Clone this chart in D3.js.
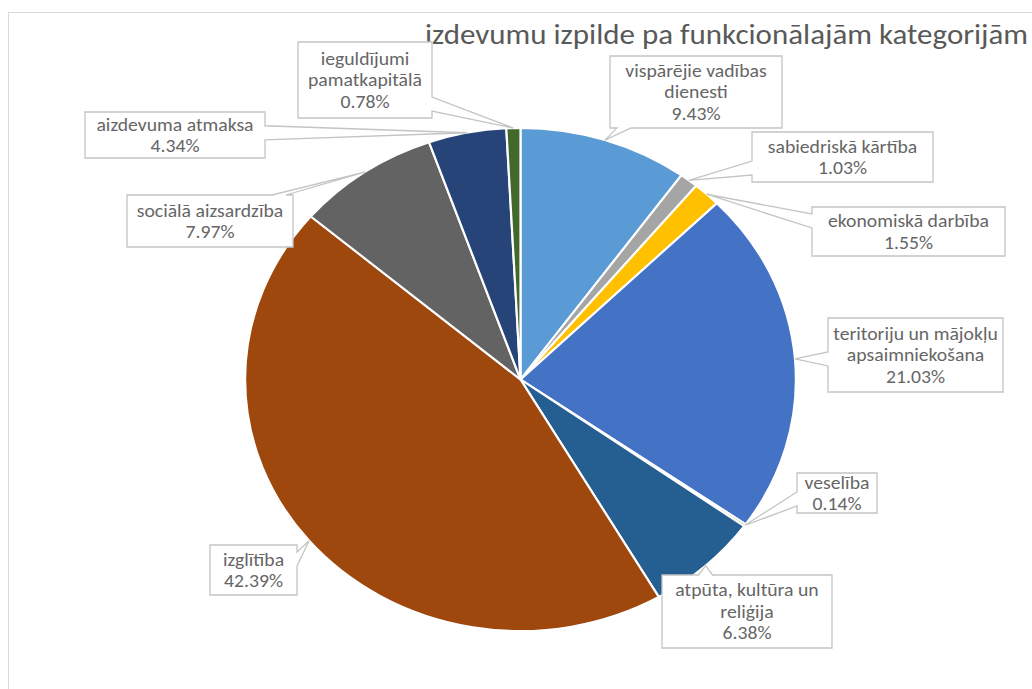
<!DOCTYPE html>
<html>
<head>
<meta charset="utf-8">
<script src="https://cdn.jsdelivr.net/npm/d3@7"></script>
<style>
  body { margin: 0; background: #fff; }
  svg { display: block; }
  text { font-family: Carlito, Calibri, "Liberation Sans", sans-serif; fill: #666; }
</style>
</head>
<body>
<svg width="1032" height="689"></svg>
<script>
// chart data
var categories = [
  'vispārējie vadības\ndienesti',
  'sabiedriskā kārtība',
  'ekonomiskā darbība',
  'teritoriju un mājokļu\napsaimniekošana',
  'veselība',
  'atpūta, kultūra un\nreliģija',
  'izglītība',
  'sociālā aizsardzība',
  'aizdevuma atmaksa',
  'ieguldījumi\npamatkapitālā'
];
var shares = [9.43, 1.03, 1.55, 21.03, 0.14, 6.38, 42.39, 7.97, 4.34, 0.78];
var shareLabels = ['9.43%', '1.03%', '1.55%', '21.03%', '0.14%', '6.38%', '42.39%', '7.97%', '4.34%', '0.78%'];
var colors = ['#5B9BD5', '#A5A5A5', '#FFC000', '#4472C4', '#70AD47', '#255E91', '#9E480E', '#636363', '#264478', '#43682B'];
var title = 'izdevumu izpilde pa funkcionālajām kategorijām';

// callout boxes (layout only)
var boxes = [
  {x: 610, y: 56, w: 172, h: 72},
  {x: 752, y: 132, w: 181, h: 50},
  {x: 812, y: 207, w: 193, h: 49},
  {x: 828, y: 318, w: 175, h: 74},
  {x: 797, y: 473, w: 80, h: 40},
  {x: 662, y: 575, w: 170, h: 73},
  {x: 210, y: 545, w: 87, h: 50},
  {x: 127, y: 195, w: 166, h: 52},
  {x: 85, y: 112, w: 180, h: 46},
  {x: 298, y: 42, w: 134, h: 76}
];

var cx = 520.5, cy = 379.5, r = 251.5, sx = 1.095;
var svg = d3.select('svg');

// chart area border
svg.append('rect')
  .attr('x', 8.5).attr('y', 12.5)
  .attr('width', 1040).attr('height', 700)
  .attr('fill', 'none')
  .attr('stroke', '#d9d9d9');

svg.append('g')
  .attr('transform', 'translate(425,44) scale(' + sx + ',1)')
  .append('text')
  .style('font-size', '28.3px')
  .style('fill', '#595959')
  .text(title);

var pie = d3.pie().sort(null).value(function(d) { return d; });
var arcs = pie(shares);
var arc = d3.arc().innerRadius(0).outerRadius(r);
var edge = d3.arc().innerRadius(r).outerRadius(r);

var pieG = svg.append('g')
  .attr('transform', 'translate(' + cx + ',' + cy + ') scale(' + sx + ',1)');

pieG.selectAll('path')
  .data(arcs)
  .enter()
  .append('path')
  .attr('d', arc)
  .attr('fill', function(d, i) { return colors[i]; })
  .attr('stroke', '#fff')
  .attr('stroke-width', 2);

// wedge callout path from box to anchor
function calloutPath(b, ax, ay) {
  var bcx = b.x + b.w / 2, bcy = b.y + b.h / 2;
  var ndx = (ax - bcx) / (b.w / 2), ndy = (ay - bcy) / (b.h / 2);
  var bw = 14;
  var x0 = b.x, x1 = b.x + b.w, y0 = b.y, y1 = b.y + b.h;
  var pts = [];
  if (Math.abs(ndx) <= 1 && Math.abs(ndy) <= 1) {
    return 'M' + x0 + ',' + y0 + 'H' + x1 + 'V' + y1 + 'H' + x0 + 'Z';
  }
  if (Math.abs(ndy) >= Math.abs(ndx)) {
    var px = Math.max(x0 + bw, Math.min(x1 - bw, ax));
    if (ndy < 0) {
      pts = [[x0, y0], [px - bw / 2, y0], [ax, ay], [px + bw / 2, y0], [x1, y0], [x1, y1], [x0, y1]];
    } else {
      pts = [[x0, y0], [x1, y0], [x1, y1], [px + bw / 2, y1], [ax, ay], [px - bw / 2, y1], [x0, y1]];
    }
  } else {
    var py = Math.max(y0 + bw, Math.min(y1 - bw, ay));
    if (ndx > 0) {
      pts = [[x0, y0], [x1, y0], [x1, py - bw / 2], [ax, ay], [x1, py + bw / 2], [x1, y1], [x0, y1]];
    } else {
      pts = [[x0, y0], [x1, y0], [x1, y1], [x0, y1], [x0, py + bw / 2], [ax, ay], [x0, py - bw / 2]];
    }
  }
  return 'M' + pts.map(function(p) { return p[0] + ',' + p[1]; }).join('L') + 'Z';
}

var labelG = svg.append('g');
arcs.forEach(function(d, i) {
  var c = edge.centroid(d);
  var ax = cx + c[0] * sx, ay = cy + c[1];
  var b = boxes[i];
  labelG.append('path')
    .attr('d', calloutPath(b, ax, ay))
    .attr('fill', '#fff')
    .attr('stroke', '#c4c4c4')
    .attr('stroke-width', 1.3);
  var lines = categories[i].split('\n').concat([shareLabels[i]]);
  var lh = 21.5;
  var top = b.y + b.h / 2 - (lines.length - 1) * lh / 2;
  var t = labelG.append('g')
    .attr('transform', 'translate(' + (b.x + b.w / 2) + ',' + top + ') scale(' + sx + ',1)')
    .append('text')
    .attr('text-anchor', 'middle')
    .style('font-size', '18px');
  lines.forEach(function(line, j) {
    t.append('tspan')
      .attr('x', 0)
      .attr('y', j * lh)
      .attr('dy', '0.35em')
      .text(line);
  });
});
</script>
</body>
</html>
